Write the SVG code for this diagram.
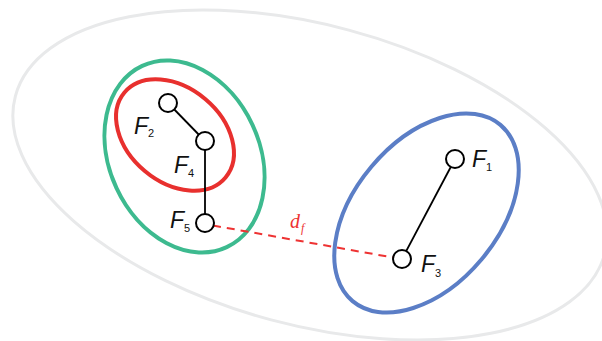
<svg xmlns="http://www.w3.org/2000/svg" width="602" height="341" viewBox="0 0 602 341">
<style>
.grp{fill:none}
.node circle{fill:#fff;stroke:#000;stroke-width:2}
.lbl{font-family:"Liberation Sans",Arial,sans-serif;font-style:italic;font-size:23px;fill:#111}
.sub{font-family:"Liberation Sans",Arial,sans-serif;font-size:11px;fill:#111}
.edge{stroke:#000;stroke-width:1.8;fill:none}
.dist{stroke:#ee3333;stroke-width:2;stroke-dasharray:8 6;fill:none}
.dl{font-family:"Liberation Serif","Times New Roman",serif;font-style:italic;fill:#ee3333}
</style>
<rect width="602" height="341" fill="#fff"/>
<g id="clusters" class="grp">
<ellipse id="outer" cx="310" cy="175" rx="305" ry="150" transform="rotate(15 310 175)" stroke="#e8e9ea" stroke-width="3"/>
<ellipse id="green" cx="184.5" cy="156.5" rx="75" ry="100" transform="rotate(-25 184.5 156.5)" stroke="#3dba8f" stroke-width="4"/>
<ellipse id="red" cx="175" cy="135" rx="66" ry="47" transform="rotate(40 175 135)" stroke="#e8302e" stroke-width="4"/>
<ellipse id="blue" cx="426.5" cy="213" rx="72" ry="115" transform="rotate(40 426.5 213)" stroke="#5b7ec6" stroke-width="4"/>
</g>
<g id="connectors">
<line class="edge" x1="168" y1="103" x2="205" y2="141"/>
<line class="edge" x1="205" y1="141" x2="205" y2="223"/>
<line class="edge" x1="455" y1="159" x2="402" y2="259"/>
<line class="dist" x1="213" y1="225.5" x2="393" y2="257.5"/>
<text class="dl" x="290" y="228" font-size="20">d</text>
<text class="dl" x="301" y="232" font-size="12">f</text>
</g>
<g id="F2" class="node"><circle cx="168" cy="103" r="9"/><text class="lbl" x="134" y="134">F</text><text class="sub" x="148" y="137">2</text></g>
<g id="F4" class="node"><circle cx="205" cy="141" r="9"/><text class="lbl" x="174" y="173">F</text><text class="sub" x="188" y="177">4</text></g>
<g id="F5" class="node"><circle cx="205" cy="223" r="9"/><text class="lbl" x="170" y="228">F</text><text class="sub" x="184" y="232">5</text></g>
<g id="F1" class="node"><circle cx="455" cy="159" r="9"/><text class="lbl" x="472" y="167">F</text><text class="sub" x="486" y="171">1</text></g>
<g id="F3" class="node"><circle cx="402" cy="259" r="9"/><text class="lbl" x="421" y="272">F</text><text class="sub" x="435" y="277">3</text></g>
</svg>
